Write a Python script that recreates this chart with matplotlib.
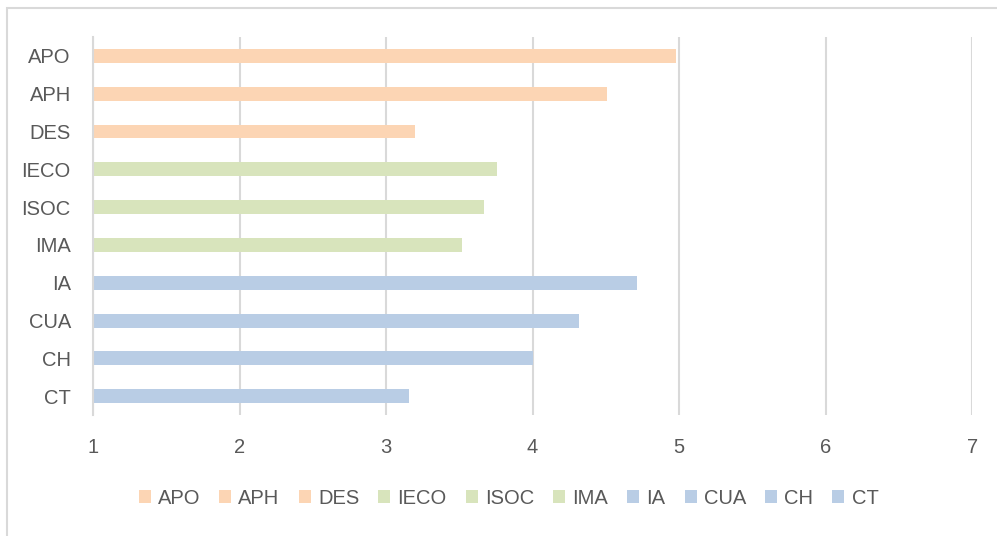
import matplotlib
matplotlib.use("Agg")
import matplotlib.pyplot as plt
from matplotlib.patches import Patch, Rectangle

# data (top to bottom)
labels = ['APO', 'APH', 'DES', 'IECO', 'ISOC', 'IMA', 'IA', 'CUA', 'CH', 'CT']
values = [4.98, 4.51, 3.20, 3.76, 3.67, 3.52, 4.71, 4.32, 4.00, 3.16]
groups = ['a', 'a', 'a', 'b', 'b', 'b', 'c', 'c', 'c', 'c']
xticks = [1, 2, 3, 4, 5, 6, 7]

colors = {'a': '#FCD5B4', 'b': '#D8E4BC', 'c': '#B9CDE5'}
txt = '#595959'
grid = '#D9D9D9'

plt.rcParams['font.family'] = ['Liberation Sans', 'DejaVu Sans']

fig = plt.figure(figsize=(9.97, 5.36), dpi=100)
ax = fig.add_axes([0.0933, 0.2257, 0.8817, 0.7053])

ypos = list(range(len(labels)))[::-1]
bar_colors = [colors[g] for g in groups]
ax.barh(ypos, [v - 1 for v in values], left=1, height=0.37, color=bar_colors, zorder=3)

ax.set_xlim(1, 7)
ax.set_ylim(-0.5, len(labels) - 0.5)
ax.set_xticks(xticks)
ax.set_xticklabels([str(t) for t in xticks])
ax.set_yticks(ypos)
ax.set_yticklabels(labels)
ax.tick_params(axis='both', length=0, labelsize=14.5, colors=txt)
ax.tick_params(axis='x', pad=16.5)
ax.tick_params(axis='y', pad=16)
ax.grid(axis='x', color=grid, linewidth=1.5, zorder=0)
for s in ['top', 'right', 'bottom']:
    ax.spines[s].set_visible(False)
ax.spines['left'].set_color(grid)
ax.spines['left'].set_linewidth(1.5)
ax.spines['left'].set_zorder(4)

handles = [Patch(facecolor=c, edgecolor='none', label=l) for l, c in zip(labels, bar_colors)]
fig.legend(handles=handles, loc='center', bbox_to_anchor=(0.51, 1 - 498 / 536), ncol=10,
           frameon=False, fontsize=14.5, labelcolor=txt, handlelength=0.6, handleheight=0.6,
           handletextpad=0.35, columnspacing=0.95)

# outer chart border
fig.patches.append(Rectangle((7 / 997, -0.05), 1.1, 1 - 8 / 536 + 0.05, transform=fig.transFigure,
                             fill=False, edgecolor=grid, linewidth=1.5))

plt.savefig('out.png', dpi=100)
